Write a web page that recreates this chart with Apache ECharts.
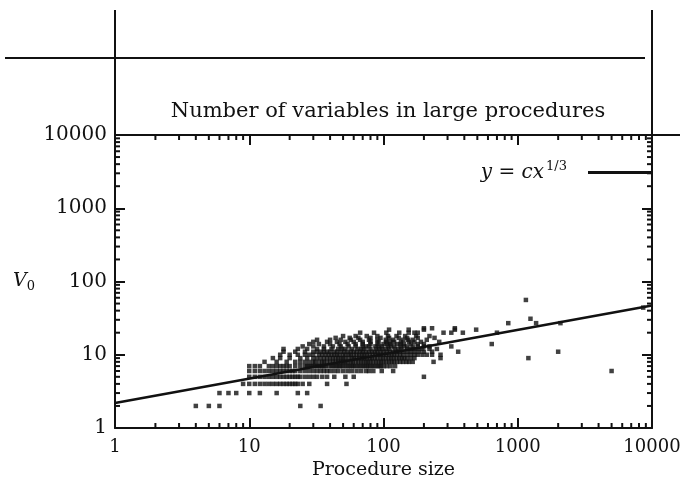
<!DOCTYPE html>
<html><head><meta charset="utf-8">
<script src="https://cdn.jsdelivr.net/npm/echarts@6/dist/echarts.min.js"></script>
<style>html,body{margin:0;padding:0;background:#fff}#c{width:680px;height:485px}</style>
</head><body><div id="c"></div>
<script>
const titleText = 'Number of variables in large procedures';
const xAxisName = 'Procedure size';
const axisMin = 1, axisMax = 10000;
const minorTickValues = [2,3,4,5,6,7,8,9,20,30,40,50,60,70,80,90,200,300,400,500,600,700,800,900,2000,3000,4000,5000,6000,7000,8000,9000];
// fitted line y = c x^(1/3)
const fitX = [1, 10000];
const fitY = [2.2, 47];
// scatter: number of variables (y) and the procedure sizes (x) observed at that count
const varCounts = [2,3,4,5,6,7,8,9,10,11,12,13,14,15,16,17,18,20,22,23,27,31,44,56];
const sizesV2  = [4,5,6,24,34];
const sizesV3  = [6,7,8,10,12,16,23,27];
const sizesV4  = [9,10,11,12,13,14,15,16,17,18,19,20,21,22,23,25,28,38,53];
const sizesV5  = [10,11,12,13,14,15,16,17,18,19,20,21,22,23,24,26,28,30,32,35,38,43,52,60,200];
const sizesV6  = [10,11,12,13,14,15,16,17,18,19,20,21,22,24,26,28,30,32,34,36,38,40,43,46,50,54,58,63,68,74,78,84,97,118,5000];
const sizesV7  = [10,11,12,14,15,16,17,18,19,20,22,24,26,27,28,29,30,31,32,33,34,35,36,37,39,41,42,44,45,47,48,50,52,54,56,58,60,62,65,67,70,72,75,77,80,83,86,90,93,96,100,106,113,122];
const sizesV8  = [13,16,19,22,24,26,28,30,31,33,35,36,38,40,42,44,46,48,50,52,54,57,59,62,65,68,71,74,77,80,84,88,92,96,100,105,110,115,120,126,133,140,148,155,165,236];
const sizesV9  = [15,17,20,24,27,30,32,34,36,38,40,42,44,46,48,50,52,55,58,60,63,66,69,72,75,79,82,86,90,95,99,104,109,114,119,125,131,137,143,150,160,170,266,1200];
const sizesV10 = [17,20,23,26,28,30,33,35,37,39,41,43,45,47,50,52,55,57,60,63,66,69,72,75,79,83,87,91,95,100,105,110,115,120,126,133,140,150,160,170,180,195,210,230,266];
const sizesV11 = [18,22,26,30,32,34,36,38,40,43,45,48,51,54,57,60,63,67,70,74,78,82,86,90,95,100,106,112,118,125,132,140,150,160,172,185,200,230,360,2000];
const sizesV12 = [18,23,27,32,36,41,46,49,52,58,64,68,72,80,88,93,98,104,110,122,129,136,150,160,170,182,195,220,250];
const sizesV13 = [25,30,36,42,48,55,62,70,74,78,87,92,97,108,114,120,134,142,150,165,180,200,220,320];
const sizesV14 = [28,33,40,47,54,62,70,80,90,100,106,112,126,134,142,160,180,200,640];
const sizesV15 = [30,38,45,52,60,70,80,92,105,112,120,135,155,170,190,260];
const sizesV16 = [32,40,48,57,67,78,90,104,118,140,152,165,210];
const sizesV17 = [44,56,65,80,95,110,130,150,180,240];
const sizesV18 = [50,62,75,90,108,125,145,175,220];
const sizesV20 = [67,85,105,131,154,170,180,280,320,390,700];
const sizesV22 = [110,154,200,340,490];
const sizesV23 = [200,230,340];
const sizesV27 = [850,1370,2080];
const sizesV31 = [1244];
const sizesV44 = [8600];
const sizesV56 = [1150];
const sizeRows = [sizesV2,sizesV3,sizesV4,sizesV5,sizesV6,sizesV7,sizesV8,sizesV9,sizesV10,sizesV11,sizesV12,sizesV13,sizesV14,sizesV15,sizesV16,sizesV17,sizesV18,sizesV20,sizesV22,sizesV23,sizesV27,sizesV31,sizesV44,sizesV56];

const scatterData = [];
varCounts.forEach((v, i) => sizeRows[i].forEach(x => scatterData.push([x, v])));
const fitData = fitX.map((x, i) => [x, fitY[i]]);

const FONT = 'DejaVu Serif';
const INK = '#111';
const chart = echarts.init(document.getElementById('c'), null, {renderer: 'canvas'});

const fmt = v => String(Math.round(v));
function baseAxis(extra) {
  return Object.assign({
    type: 'log', logBase: 10, min: axisMin, max: axisMax,
    axisLine: {show: true, lineStyle: {color: INK, width: 2}},
    axisTick: {show: true, inside: true, length: 10, lineStyle: {color: INK, width: 2}},
    splitLine: {show: false},
    axisLabel: {show: false}
  }, extra);
}
function drawTick(api, v, horizontal) {
  const len = 5;
  if (horizontal) {
    const a = api.coord([v, axisMin]), b = api.coord([v, axisMax]);
    return {type: 'group', children: [
      {type: 'line', shape: {x1: a[0], y1: a[1], x2: a[0], y2: a[1] - len}, style: {stroke: INK, lineWidth: 2}},
      {type: 'line', shape: {x1: b[0], y1: b[1], x2: b[0], y2: b[1] + len}, style: {stroke: INK, lineWidth: 2}}
    ]};
  }
  const a = api.coord([axisMin, v]), b = api.coord([axisMax, v]);
  return {type: 'group', children: [
    {type: 'line', shape: {x1: a[0], y1: a[1], x2: a[0] + len, y2: a[1]}, style: {stroke: INK, lineWidth: 2}},
    {type: 'line', shape: {x1: b[0], y1: b[1], x2: b[0] - len, y2: b[1]}, style: {stroke: INK, lineWidth: 2}}
  ]};
}

chart.setOption({
  animation: false,
  backgroundColor: '#fff',
  title: {
    text: titleText, left: 383, top: 96, textAlign: 'center',
    textStyle: {fontFamily: FONT, fontSize: 21, fontWeight: 'normal', color: INK}
  },
  legend: {
    show: true, right: 28, top: 160, padding: 0, align: 'right', icon: 'rect',
    itemWidth: 64, itemHeight: 3, data: ['fit'],
    formatter: () => '{i|y} = {i|cx}{s|1/3}{g|}',
    textStyle: {
      fontFamily: FONT, fontSize: 20, color: INK,
      rich: {
        i: {fontFamily: FONT, fontStyle: 'italic', fontSize: 20, color: INK},
        s: {fontFamily: FONT, fontSize: 13, color: INK, padding: [0, 0, 12, 2]},
        g: {width: 16}
      }
    }
  },
  grid: {left: 115, right: 28, top: 135, bottom: 57, containLabel: false, outerBoundsMode: 'none'},
  xAxis: [
    baseAxis({position: 'bottom',
      axisLabel: {show: true, formatter: fmt, margin: 10, fontFamily: FONT, fontSize: 18, color: INK},
      name: xAxisName, nameLocation: 'middle', nameGap: 30,
      nameTextStyle: {fontFamily: FONT, fontSize: 19, color: INK}}),
    baseAxis({position: 'top'})
  ],
  yAxis: [
    baseAxis({position: 'left',
      axisLabel: {show: true, formatter: fmt, margin: 8, fontFamily: FONT, fontSize: 20, color: INK},
      name: '{i|V}{s|0}', nameLocation: 'middle', nameRotate: 0, nameGap: 80,
      nameTextStyle: {fontFamily: FONT, fontSize: 19, color: INK,
        rich: {i: {fontFamily: FONT, fontStyle: 'italic', fontSize: 19, color: INK},
               s: {fontFamily: FONT, fontSize: 13, color: INK, padding: [10, 0, 0, 0]}}}}),
    baseAxis({position: 'right'})
  ],
  graphic: [
    {type: 'line', shape: {x1: 115, y1: 10, x2: 115, y2: 135}, style: {stroke: INK, lineWidth: 2}},
    {type: 'line', shape: {x1: 652, y1: 10, x2: 652, y2: 135}, style: {stroke: INK, lineWidth: 2}},
    {type: 'line', shape: {x1: 5, y1: 58, x2: 645, y2: 58}, style: {stroke: INK, lineWidth: 2}},
    {type: 'line', shape: {x1: 652, y1: 135, x2: 680, y2: 135}, style: {stroke: INK, lineWidth: 2}}
  ],
  series: [
    {name: 'points', type: 'scatter', data: scatterData, symbol: 'rect', symbolSize: 4.5,
     itemStyle: {color: INK}, silent: true},
    {name: 'fit', type: 'line', data: fitData, showSymbol: false, symbol: 'none',
     lineStyle: {color: INK, width: 2.5}, itemStyle: {color: INK}},
    {name: 'xminor', type: 'custom', data: minorTickValues.map(v => [v, 1]),
     renderItem: (p, api) => drawTick(api, api.value(0), true), clip: false, silent: true},
    {name: 'yminor', type: 'custom', data: minorTickValues.map(v => [1, v]),
     renderItem: (p, api) => drawTick(api, api.value(1), false), clip: false, silent: true}
  ]
});
</script></body></html>
